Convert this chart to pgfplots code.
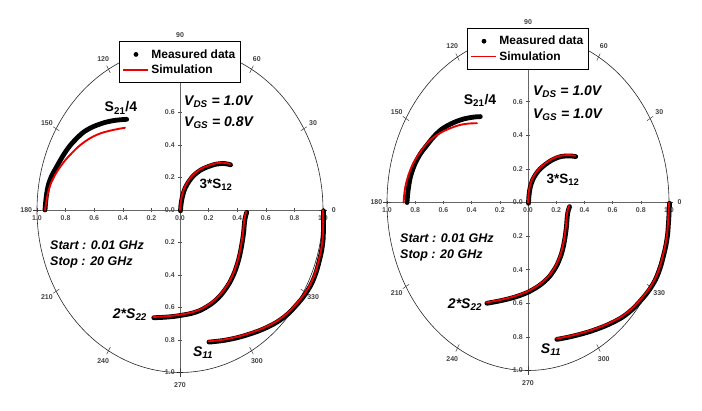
\documentclass[border=0pt]{standalone}
\usepackage{fontspec}
\setmainfont{Liberation Sans}
\usepackage{pgfplots}
\pgfplotsset{compat=1.18}

\pgfplotstableread{
x y
-0.944 0
-0.932 0.103
-0.909 0.185
-0.862 0.267
-0.792 0.369
-0.722 0.441
-0.652 0.492
-0.559 0.529
-0.466 0.550
-0.373 0.558
}\LSxxiM
\pgfplotstableread{
x y
-0.944 0
-0.921 0.113
-0.886 0.195
-0.828 0.277
-0.758 0.349
-0.676 0.414
-0.583 0.462
-0.490 0.488
-0.385 0.506
}\LSxxiS
\pgfplotstableread{
x y
0 0
0.012 0.082
0.047 0.164
0.117 0.236
0.210 0.277
0.291 0.291
0.350 0.283
}\LSxii
\pgfplotstableread{
x y
0.463 -0.010
0.449 -0.061
0.440 -0.143
0.421 -0.245
0.398 -0.327
0.363 -0.409
0.316 -0.480
0.257 -0.542
0.187 -0.589
0.105 -0.624
0 -0.644
-0.094 -0.654
-0.187 -0.658
}\LSxxii
\pgfplotstableread{
x y
1.0 0
1.0 -0.102
0.994 -0.204
0.971 -0.307
0.936 -0.409
0.889 -0.491
0.819 -0.572
0.725 -0.654
0.608 -0.716
0.468 -0.763
0.328 -0.794
0.199 -0.808
}\LSxi

\pgfplotstableread{
x y
-0.858 0
-0.847 0.093
-0.823 0.183
-0.776 0.272
-0.716 0.342
-0.645 0.412
-0.574 0.456
-0.480 0.491
-0.397 0.507
-0.338 0.511
}\RSxxiM
\pgfplotstableread{
x y
-0.882 0
-0.870 0.093
-0.835 0.193
-0.787 0.272
-0.716 0.352
-0.645 0.402
-0.551 0.442
-0.457 0.466
-0.362 0.472
}\RSxxiS
\pgfplotstableread{
x y
0 0
0.012 0.093
0.052 0.173
0.123 0.233
0.206 0.272
0.277 0.282
0.335 0.278
}\RSxii
\pgfplotstableread{
x y
0.291 -0.020
0.277 -0.065
0.267 -0.155
0.248 -0.254
0.220 -0.333
0.177 -0.403
0.118 -0.462
0.035 -0.512
-0.059 -0.548
-0.177 -0.576
-0.295 -0.595
}\RSxxii
\pgfplotstableread{
x y
1.0 0
0.993 -0.115
0.982 -0.214
0.957 -0.314
0.922 -0.413
0.875 -0.492
0.804 -0.571
0.709 -0.651
0.603 -0.707
0.461 -0.756
0.319 -0.790
0.201 -0.810
}\RSxi

\colorlet{simred}{red!92!black}

\pgfplotsset{
  smith/.style={
    scale only axis,
    xmin=-1,xmax=1,ymin=-1,ymax=1,
    axis lines=middle,
    axis line style={-, black!60, line width=0.7pt},
    hide obscured x ticks=false,
    hide obscured y ticks=false,
    xtick={-1,-0.8,-0.6,-0.4,-0.2,0,0.2,0.4,0.6,0.8,1},
    xticklabels={1.0,0.8,0.6,0.4,0.2,0.0,0.2,0.4,0.6,0.8,1.0},
    ytick={-1,-0.8,-0.6,-0.4,-0.2,0,0.2,0.4,0.6},
    yticklabels={1.0,0.8,0.6,0.4,0.2,0.0,0.2,0.4,0.6},
    tick label style={font=\fontsize{7}{8}\selectfont\bfseries, text=black!70},
    tick align=center,
    major tick length=3.5pt,
    tick style={black!70, line width=0.5pt},
    clip=false,
    legend style={at={(0.5,1.02)}, anchor=north, draw=black, line width=0.7pt,
      fill=white, font=\fontsize{12}{13}\selectfont\bfseries,
      inner xsep=3pt, inner ysep=6pt, row sep=1pt},
    legend cell align=left,
  },
  meas/.style={black, line width=4.8pt, line cap=round, smooth, tension=0.7, forget plot},
  simu/.style={simred, line width=1.9pt, line cap=round, smooth, tension=0.7, forget plot},
  shd/.style={xshift=0.5pt, yshift=-0.8pt},
}

\newcommand{\decor}{%
  \draw[black!85, line width=0.6pt] (axis cs:0,0) ellipse [x radius=1, y radius=1];
  \pgfplotsinvokeforeach{0,30,...,330}{%
    \draw[black!75, line width=0.5pt] (axis cs:{0.975*cos(##1)},{0.975*sin(##1)}) -- (axis cs:{1.025*cos(##1)},{1.025*sin(##1)});
    \node[font=\fontsize{7}{8}\selectfont\bfseries, text=black!75, inner sep=0pt] at (axis cs:{1.075*cos(##1)},{1.075*sin(##1)}) {##1};
  }%
}
\newcommand{\leg}{%
  \addlegendimage{legend image code/.code={\path[draw=none,fill=none] (0pt,0pt) -- (25pt,0pt); \path[draw=none,fill=black] (12.5pt,0pt) circle (2.4pt);}}
  \addlegendentry{Measured data}
  \addlegendimage{legend image code/.code={\path[draw=simred, line width=1.8pt] (0pt,0pt) -- (25pt,0pt);}}
  \addlegendentry{Simulation}
}

\begin{document}
\begin{tikzpicture}
\useasboundingbox (0pt,0pt) rectangle (702pt,411pt);

% ---------- left chart ----------
\begin{axis}[smith, width=286pt, height=325pt, at={(180pt,201pt)}, anchor=center]
\decor
\addplot[meas] table {\LSxxiM};
\addplot[simu] table {\LSxxiS};
\addplot[meas, shd] table {\LSxii};
\addplot[simu] table {\LSxii};
\addplot[meas, shd] table {\LSxxii};
\addplot[simu] table {\LSxxii};
\addplot[meas, shd] table {\LSxi};
\addplot[simu] table {\LSxi};
\node[font=\fontsize{14}{14}\selectfont\bfseries] at (axis cs:-0.413,0.628) {S\textsubscript{21}/4};
\node[font=\fontsize{14}{14}\selectfont\bfseries\itshape, anchor=west, inner sep=0pt] at (axis cs:0.028,0.665) {V\textsubscript{DS} = 1.0V};
\node[font=\fontsize{14}{14}\selectfont\bfseries\itshape, anchor=west, inner sep=0pt] at (axis cs:0.028,0.535) {V\textsubscript{GS} = 0.8V};
\node[font=\fontsize{13.5}{14}\selectfont\bfseries] at (axis cs:0.252,0.154) {3*S\textsubscript{12}};
\node[font=\fontsize{12.5}{13}\selectfont\bfseries\itshape, anchor=west, inner sep=0pt] at (axis cs:-0.909,-0.215) {Start : 0.01 GHz};
\node[font=\fontsize{12.5}{13}\selectfont\bfseries\itshape, anchor=west, inner sep=0pt] at (axis cs:-0.909,-0.32) {Stop : 20 GHz};
\node[font=\fontsize{14}{14}\selectfont\bfseries\itshape] at (axis cs:-0.35,-0.646) {2*S\textsubscript{22}};
\node[font=\fontsize{14}{14}\selectfont\bfseries\itshape] at (axis cs:0.161,-0.88) {S\textsubscript{11}};
\leg
\end{axis}

% ---------- right chart ----------
\begin{axis}[smith, width=282pt, height=336pt, at={(528pt,208.5pt)}, anchor=center]
\decor
\addplot[meas] table {\RSxxiM};
\addplot[simu] table {\RSxxiS};
\addplot[meas, shd] table {\RSxii};
\addplot[simu] table {\RSxii};
\addplot[meas, shd] table {\RSxxii};
\addplot[simu] table {\RSxxii};
\addplot[meas, shd] table {\RSxi};
\addplot[simu] table {\RSxi};
\node[font=\fontsize{14}{14}\selectfont\bfseries] at (axis cs:-0.34,0.61) {S\textsubscript{21}/4};
\node[font=\fontsize{14}{14}\selectfont\bfseries\itshape, anchor=west, inner sep=0pt] at (axis cs:0.035,0.658) {V\textsubscript{DS} = 1.0V};
\node[font=\fontsize{14}{14}\selectfont\bfseries\itshape, anchor=west, inner sep=0pt] at (axis cs:0.035,0.521) {V\textsubscript{GS} = 1.0V};
\node[font=\fontsize{13.5}{14}\selectfont\bfseries] at (axis cs:0.248,0.134) {3*S\textsubscript{12}};
\node[font=\fontsize{12.5}{13}\selectfont\bfseries\itshape, anchor=west, inner sep=0pt] at (axis cs:-0.908,-0.211) {Start : 0.01 GHz};
\node[font=\fontsize{12.5}{13}\selectfont\bfseries\itshape, anchor=west, inner sep=0pt] at (axis cs:-0.908,-0.3125) {Stop : 20 GHz};
\node[font=\fontsize{14}{14}\selectfont\bfseries\itshape] at (axis cs:-0.447,-0.61) {2*S\textsubscript{22}};
\node[font=\fontsize{14}{14}\selectfont\bfseries\itshape] at (axis cs:0.163,-0.878) {S\textsubscript{11}};
\leg
\end{axis}
\end{tikzpicture}
\end{document}
